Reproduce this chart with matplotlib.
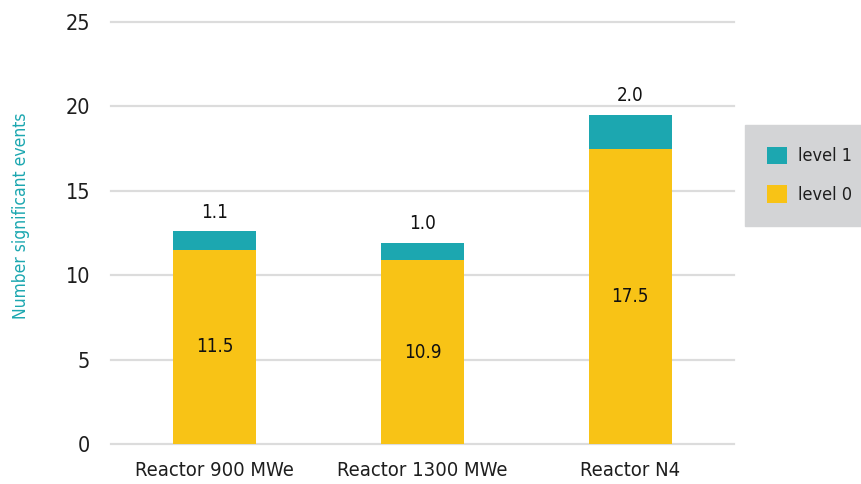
import matplotlib
matplotlib.use("Agg")
import matplotlib.pyplot as plt
from matplotlib.patches import Patch

plt.rcParams['font.family'] = ['DejaVu Sans']
plt.rcParams['font.stretch'] = 'condensed'

categories = ["Reactor 900 MWe", "Reactor 1300 MWe", "Reactor N4"]
level0 = [11.5, 10.9, 17.5]
level1 = [1.1, 1.0, 2.0]
yticks = [0, 5, 10, 15, 20, 25]

TEAL = "#1ca7b0"
YELLOW = "#f8c316"
GRID = "#dcdcdc"
TEXT = "#1e1e1e"

fig = plt.figure(figsize=(8.62, 4.84), dpi=100)
ax = fig.add_axes([111 / 862, 1 - 444 / 484, 623 / 862, 422 / 484])

x = list(range(len(categories)))
width = 0.4
ax.bar(x, level0, width=width, color=YELLOW, zorder=3)
ax.bar(x, level1, width=width, bottom=level0, color=TEAL, zorder=3)

for xi, a, b in zip(x, level0, level1):
    ax.text(xi, a / 2, f"{a:.1f}", ha="center", va="center",
            fontsize=13.5, color="#111111", zorder=4)
    ax.annotate(f"{b:.1f}", xy=(xi, a + b), xytext=(0, 7),
                textcoords="offset points", ha="center", va="bottom",
                fontsize=13.5, color="#111111")

ax.set_xlim(-0.5, 2.5)
ax.set_ylim(0, 25)
ax.set_yticks(yticks)
ax.set_xticks(x)
ax.set_xticklabels(categories)
ax.tick_params(axis="both", length=0, labelsize=14.5, colors=TEXT)
ax.tick_params(axis="y", pad=15, labelsize=15.5)
ax.tick_params(axis="x", pad=12)
for yv in yticks:
    ax.axhline(yv, color=GRID, linewidth=1.6, zorder=1, clip_on=False)
for s in ax.spines.values():
    s.set_visible(False)

ax.set_ylabel("Number significant events", color=TEAL, fontsize=12.5)
ax.yaxis.set_label_coords(-0.13, 0.54)

handles = [Patch(facecolor=TEAL, edgecolor="none", label="level 1"),
           Patch(facecolor=YELLOW, edgecolor="none", label="level 0")]
leg = fig.legend(handles=handles, loc="upper left",
                 bbox_to_anchor=(745 / 862, 1 - 125 / 484),
                 frameon=True, fancybox=False, fontsize=13,
                 handlelength=1.1, handleheight=1.1, handletextpad=0.65,
                 borderpad=1.2, labelspacing=1.1, borderaxespad=0)
frame = leg.get_frame()
frame.set_facecolor("#d3d4d6")
frame.set_edgecolor("#d3d4d6")
frame.set_alpha(1)
for t in leg.get_texts():
    t.set_color(TEXT)

fig.savefig("out.png", dpi=100)
